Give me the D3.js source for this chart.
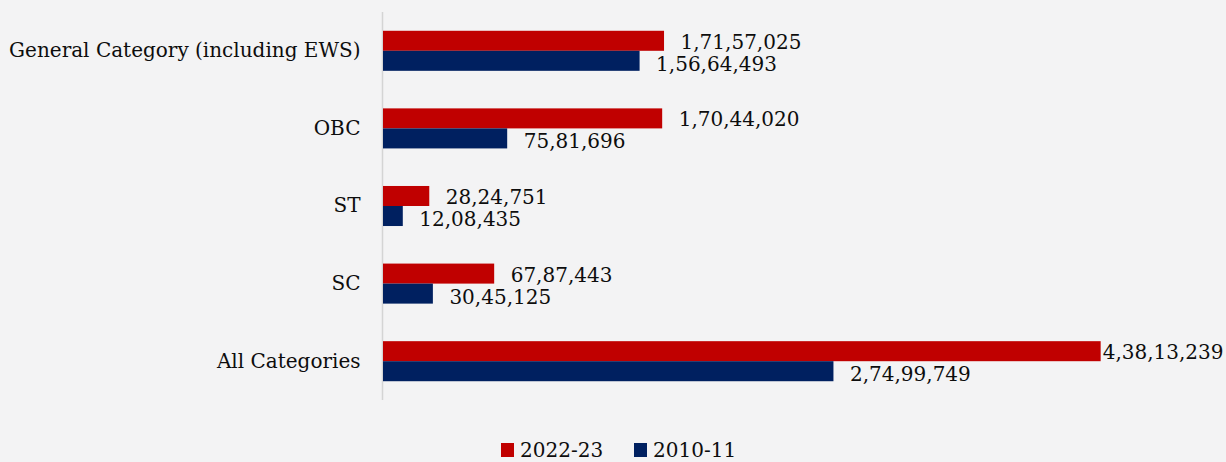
<!DOCTYPE html>
<html><head><meta charset="utf-8">
<script src="https://cdn.jsdelivr.net/npm/d3@7"></script>
<style>html,body{margin:0;padding:0;background:#f3f3f4;}svg{display:block;}</style>
</head><body>
<svg id="c" width="1226" height="462"></svg>
<script>
const categories = ["General Category (including EWS)", "OBC", "ST", "SC", "All Categories"];
const seriesNames = ["2022-23", "2010-11"];
const values2022 = [17157025, 17044020, 2824751, 6787443, 43813239];
const values2010 = [15664493, 7581696, 1208435, 3045125, 27499749];
const colors = ["#c00000", "#002060"];

const W = 1226, H = 462;
const svg = d3.select("#c");
const font = "'DejaVu Serif', serif";

svg.append("rect").attr("width", W).attr("height", H).attr("fill", "#f3f3f4");

const x = d3.scaleLinear().domain([0, 50000000]).range([383, 1202]);
const y = d3.scaleBand().domain(categories).range([12, 400]).paddingInner(0.484).paddingOuter(0.242);
const inner = d3.scaleBand().domain(seriesNames).range([0, y.bandwidth()]);

const data = categories.map((c, i) => ({cat: c, vals: [values2022[i], values2010[i]]}));

// axis
const yAxis = svg.append("g").attr("transform", "translate(382.5,0)")
  .call(d3.axisLeft(y).tickSize(0).tickPadding(22));
yAxis.select(".domain").attr("stroke", "#d4d4d4").attr("stroke-width", 1.5)
  .attr("d", "M0,12V400");
yAxis.selectAll("text").attr("font-family", font).attr("font-size", 20).attr("fill", "#0d0d0d");

const g = svg.append("g");
data.forEach(d => {
  d.vals.forEach((v, j) => {
    const yy = y(d.cat) + inner(seriesNames[j]);
    g.append("rect").attr("x", x(0)).attr("y", yy).attr("width", x(v) - x(0)).attr("height", inner.bandwidth())
      .attr("fill", colors[j]);
    const fmt = v.toLocaleString("en-IN");
    const big = v > 40000000;
    const t = g.append("text").attr("x", x(v) + (big ? 2 : 16.5)).attr("y", yy + inner.bandwidth() / 2 + (j === 0 ? 1 : 3))
      .attr("dy", "0.35em").attr("font-family", font).attr("font-size", 20).attr("fill", "#0d0d0d").text(fmt);
    if (big) {
      const avail = W - (x(v) + 2);
      if (t.node().getComputedTextLength() > avail) t.attr("textLength", avail).attr("lengthAdjust", "spacingAndGlyphs");
    }
  });
});

// legend
const legend = svg.append("g");
const lx = [501, 634];
seriesNames.forEach((s, j) => {
  legend.append("rect").attr("x", lx[j]).attr("y", 443).attr("width", 13).attr("height", 14).attr("fill", colors[j]);
  legend.append("text").attr("x", lx[j] + 19).attr("y", 450).attr("dy", "0.35em")
    .attr("font-family", font).attr("font-size", 20).attr("fill", "#0d0d0d").text(s);
});
</script>
</body></html>
